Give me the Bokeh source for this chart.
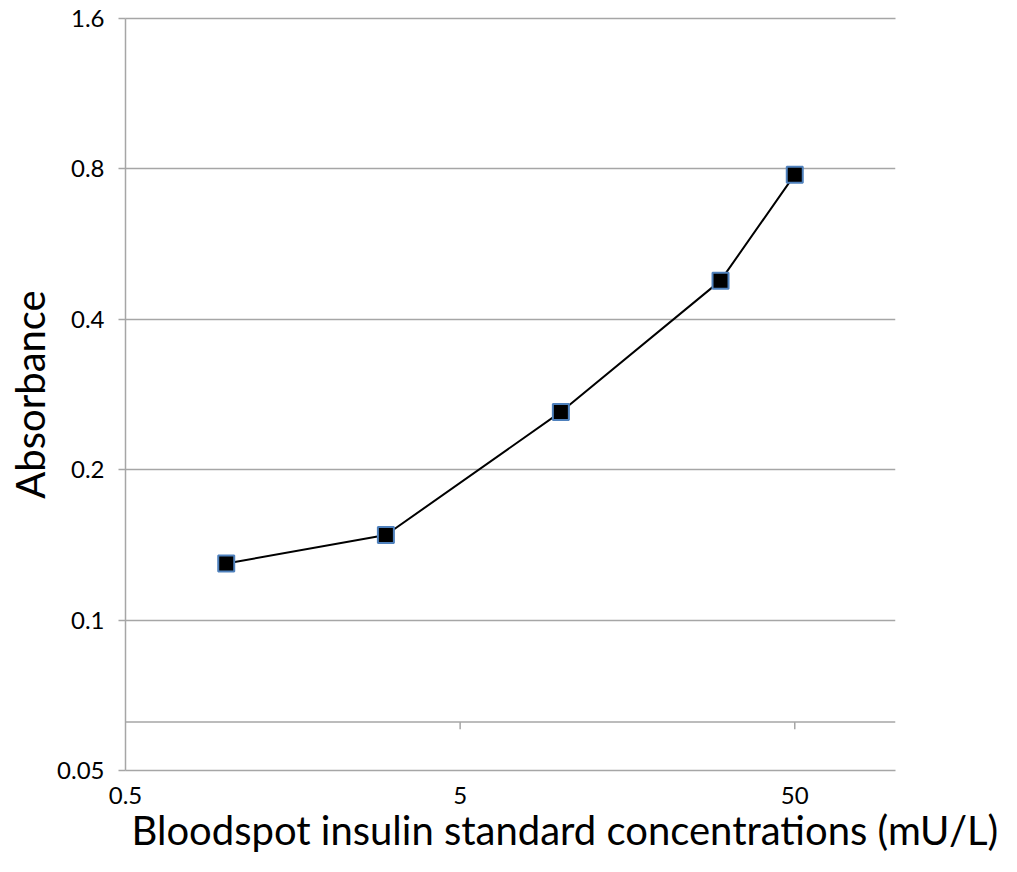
from bokeh.plotting import figure
from bokeh.models import FixedTicker, Span, Title, Range1d, LogAxis
from bokeh.embed import file_html
from bokeh.resources import INLINE

# Data
conc = [1, 3, 10, 30, 50]
absorbance = [0.1298, 0.148, 0.261, 0.478, 0.779]

x_ticks = [0.5, 5, 50]
x_tick_labels = ["0.5", "5", "50"]
y_ticks = [0.05, 0.1, 0.2, 0.4, 0.8, 1.6]
y_tick_labels = ["0.05", "0.1", "0.2", "0.4", "0.8", "1.6"]
x_cross = 0.0625  # where the horizontal axis crosses the vertical axis
x_title = "Bloodspot insulin standard concentrations (mU/L)"
y_title = "Absorbance"

FONT = "Lato"
GRID = "#a6a6a6"

p = figure(width=1000, height=856, x_axis_type="log", y_axis_type="log",
           x_range=Range1d(0.5, 100), y_range=Range1d(0.05, 1.6),
           output_backend="svg", toolbar_location=None,
           min_border_left=125, min_border_top=18, min_border_right=105,
           min_border_bottom=86)
p.outline_line_color = None
p.background_fill_color = "white"

# grids
p.xgrid.visible = False
p.ygrid.ticker = FixedTicker(ticks=y_ticks)
p.ygrid.grid_line_color = GRID
p.ygrid.grid_line_width = 1.5

# y axis
ya = p.yaxis[0]
ya.ticker = FixedTicker(ticks=y_ticks)
ya.major_label_overrides = {t: l for t, l in zip(y_ticks, y_tick_labels)}
ya.axis_line_color = GRID
ya.axis_line_width = 1.5
ya.major_tick_line_color = GRID
ya.major_tick_line_width = 1.5
ya.major_tick_in = 0
ya.major_tick_out = 7
ya.minor_tick_line_color = None
ya.major_label_standoff = 14
ya.major_label_text_font = FONT
ya.major_label_text_font_size = "24px"
ya.major_label_text_color = "black"
ya.axis_label = y_title
ya.axis_label_text_font = FONT
ya.axis_label_text_font_size = "40px"
ya.axis_label_text_font_style = "normal"
ya.axis_label_text_color = "black"
ya.axis_label_standoff = 0

# x axis (labels + bottom frame line)
xa = p.xaxis[0]
xa.ticker = FixedTicker(ticks=x_ticks)
xa.major_label_overrides = {t: l for t, l in zip(x_ticks, x_tick_labels)}
xa.axis_line_color = GRID
xa.axis_line_width = 1.5
xa.major_tick_line_color = None
xa.minor_tick_line_color = None
xa.major_tick_in = 0
xa.major_tick_out = 0
xa.major_label_standoff = 16
xa.major_label_text_font = FONT
xa.major_label_text_font_size = "24px"
xa.major_label_text_color = "black"

# top line (gridline at top of range)
top = LogAxis(ticker=FixedTicker(ticks=[]), axis_line_color=GRID, axis_line_width=1.5,
              major_tick_line_color=None, minor_tick_line_color=None,
              major_tick_in=0, major_tick_out=0)
p.add_layout(top, "above")

# crossing horizontal axis line and its ticks
p.add_layout(Span(location=x_cross, dimension="width", line_color=GRID, line_width=1.5))
tick_ratio = 0.968
p.segment(x0=x_ticks[1:], y0=[x_cross] * 2, x1=x_ticks[1:], y1=[x_cross * tick_ratio] * 2,
          line_color=GRID, line_width=1.5)

# x axis title
p.add_layout(Title(text=x_title, align="left", offset=6, text_font=FONT,
                   text_font_size="40px", text_font_style="normal",
                   text_color="black", standoff=-6), "below")

# data
p.line(conc, absorbance, line_color="black", line_width=2)
p.scatter(conc, absorbance, marker="square", size=16, fill_color="black",
          line_color="#4f81bd", line_width=2)

open("out.html", "w").write(file_html(p, INLINE))
